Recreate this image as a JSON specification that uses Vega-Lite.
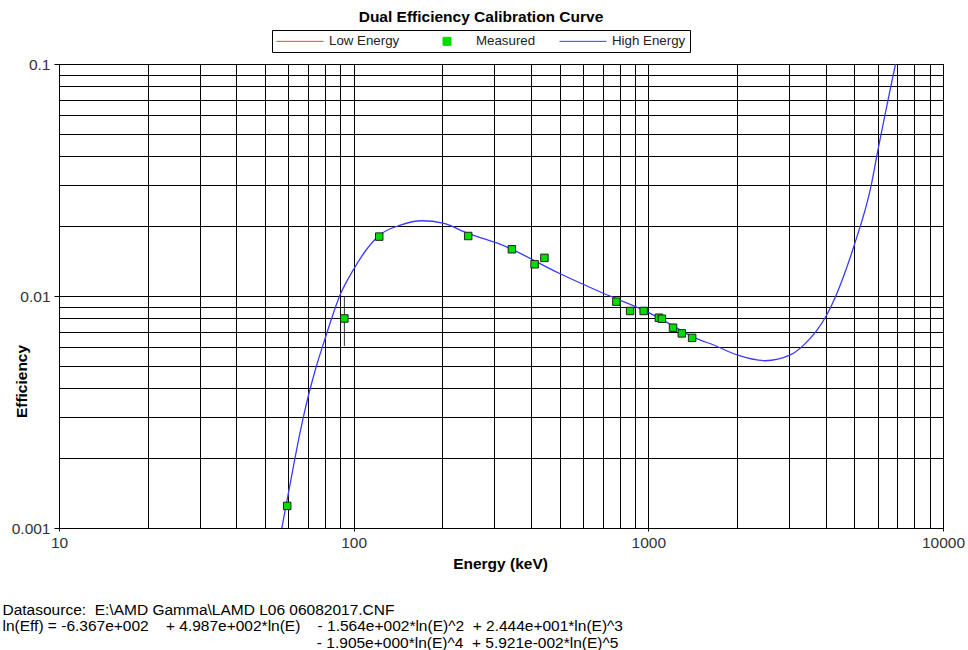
{
  "$schema": "https://vega.github.io/schema/vega-lite/v6.json",
  "autosize": {"type": "none"},
  "padding": {"left": 59, "top": 64, "right": 25, "bottom": 122},
  "width": 884,
  "height": 464,
  "background": "#ffffff",
  "title": {
    "text": "Dual Efficiency Calibration Curve",
    "anchor": "middle",
    "frame": "group",
    "dx": -20,
    "offset": 4,
    "font": "Liberation Sans",
    "fontSize": 15.5,
    "fontWeight": "bold",
    "color": "#000000"
  },
  "datasets": {
    "curve": [
      {"E": 57.05, "eff": 0.001, "series": "High Energy"},
      {"E": 61.2, "eff": 0.00161, "series": "High Energy"},
      {"E": 65.4, "eff": 0.00249, "series": "High Energy"},
      {"E": 69.6, "eff": 0.00356, "series": "High Energy"},
      {"E": 74.1, "eff": 0.0048, "series": "High Energy"},
      {"E": 80.1, "eff": 0.00659, "series": "High Energy"},
      {"E": 90.2, "eff": 0.0102, "series": "High Energy"},
      {"E": 99.5, "eff": 0.0129, "series": "High Energy"},
      {"E": 109.6, "eff": 0.01563, "series": "High Energy"},
      {"E": 121.4, "eff": 0.01815, "series": "High Energy"},
      {"E": 144, "eff": 0.0202, "series": "High Energy"},
      {"E": 170.6, "eff": 0.0211, "series": "High Energy"},
      {"E": 200.9, "eff": 0.0206, "series": "High Energy"},
      {"E": 244, "eff": 0.0186, "series": "High Energy"},
      {"E": 315, "eff": 0.0167, "series": "High Energy"},
      {"E": 500, "eff": 0.0125, "series": "High Energy"},
      {"E": 700, "eff": 0.0103, "series": "High Energy"},
      {"E": 1000, "eff": 0.0085, "series": "High Energy"},
      {"E": 1200, "eff": 0.0075, "series": "High Energy"},
      {"E": 1445, "eff": 0.00658, "series": "High Energy"},
      {"E": 1667, "eff": 0.00615, "series": "High Energy"},
      {"E": 2000, "eff": 0.00557, "series": "High Energy"},
      {"E": 2494, "eff": 0.00526, "series": "High Energy"},
      {"E": 3034, "eff": 0.00557, "series": "High Energy"},
      {"E": 3548, "eff": 0.00658, "series": "High Energy"},
      {"E": 3741, "eff": 0.00714, "series": "High Energy"},
      {"E": 4000, "eff": 0.00814, "series": "High Energy"},
      {"E": 5000, "eff": 0.0166, "series": "High Energy"},
      {"E": 5706, "eff": 0.03, "series": "High Energy"},
      {"E": 6000, "eff": 0.0419, "series": "High Energy"},
      {"E": 6900, "eff": 0.1, "series": "High Energy"}
    ],
    "measured": [
      {"E": 59.5, "eff": 0.001245, "series": "Measured"},
      {"E": 93.0, "eff": 0.0080, "lo": 0.00609, "hi": 0.00993, "series": "Measured"},
      {"E": 122.1, "eff": 0.01803, "series": "Measured"},
      {"E": 244.7, "eff": 0.01814, "series": "Measured"},
      {"E": 344.3, "eff": 0.0159, "series": "Measured"},
      {"E": 411.1, "eff": 0.0137, "series": "Measured"},
      {"E": 444.0, "eff": 0.0146, "series": "Measured"},
      {"E": 778.9, "eff": 0.00945, "series": "Measured"},
      {"E": 867.4, "eff": 0.00862, "series": "Measured"},
      {"E": 964.1, "eff": 0.00862, "series": "Measured"},
      {"E": 1085.8, "eff": 0.00806, "series": "Measured"},
      {"E": 1112.1, "eff": 0.00798, "series": "Measured"},
      {"E": 1212.9, "eff": 0.0073, "series": "Measured"},
      {"E": 1299.1, "eff": 0.0069, "series": "Measured"},
      {"E": 1408.0, "eff": 0.0066, "series": "Measured"}
    ]
  },
  "resolve": {"scale": {"x": "independent"}, "axis": {"x": "independent"}},
  "encoding": {
    "y": {
      "field": "eff",
      "type": "quantitative",
      "title": "Efficiency",
      "scale": {"type": "log", "domain": [0.001, 0.1], "nice": false},
      "axis": {
        "title": "Efficiency",
        "values": [0.001, 0.002, 0.003, 0.004, 0.005, 0.006, 0.007, 0.008, 0.009, 0.01, 0.02, 0.03, 0.04, 0.05, 0.06, 0.07, 0.08, 0.09, 0.1],
        "format": "~g",
        "labelExpr": "datum.value == 0.001 || datum.value == 0.01 || datum.value == 0.1 ? datum.label : ''",
        "labelOverlap": false,
        "labelFlush": false,
        "labelBound": false,
        "grid": true,
        "gridColor": "#000000",
        "gridOpacity": 1,
        "gridWidth": 1,
        "domainColor": "#000000",
        "tickColor": "#000000",
        "tickSize": 5,
        "tickOpacity": {"condition": {"test": "datum.value == 0.001 || datum.value == 0.01 || datum.value == 0.1", "value": 1}, "value": 0},
        "labelFont": "Liberation Sans",
        "labelFontSize": 15.5,
        "labelColor": "#333333",
        "labelPadding": 4,
        "titleFont": "Liberation Sans",
        "titleFontSize": 15.5,
        "titleFontWeight": "bold",
        "titleColor": "#000000",
        "titleX": -33,
        "titleY": 317,
        "titleBaseline": "alphabetic"
      }
    },
    "color": {
      "field": "series",
      "type": "nominal",
      "scale": {
        "domain": ["Low Energy", "Measured", "High Energy"],
        "range": ["#ff4040", "#00dd00", "#3a3aff"]
      },
      "legend": {
        "title": null,
        "orient": "none",
        "legendX": 213,
        "legendY": -34,
        "direction": "horizontal",
        "strokeColor": "#000000",
        "fillColor": "#ffffff",
        "padding": 4,
        "columnPadding": 21,
        "labelFont": "Liberation Sans",
        "labelFontSize": 13.3,
        "labelColor": "#222222",
        "labelOffset": 39,
        "symbolSize": 169,
        "symbolStrokeWidth": 1,
        "encode": {
          "symbols": {
            "update": {
              "shape": {"signal": "datum.value === 'Measured' ? 'M-1,0M2,-0.615H3.23V0.615H2Z' : 'M-1,0H6.23'"},
              "size": {"value": 169},
              "fill": {"signal": "datum.value === 'Measured' ? '#00dd00' : 'transparent'"},
              "stroke": {"signal": "datum.value === 'Measured' ? '#111111' : (datum.value === 'Low Energy' ? '#ff4040' : '#3a3aff')"},
              "strokeWidth": {"value": 1},
              "opacity": {"value": 1}
            }
          }
        }
      }
    }
  },
  "layer": [
    {
      "encoding": {
        "x": {
          "field": "E",
          "type": "quantitative",
          "scale": {"type": "log", "domain": [10, 10000], "nice": false},
          "axis": {
            "orient": "bottom",
            "title": "Energy (keV)",
            "values": [10, 20, 30, 40, 50, 60, 70, 80, 90, 100, 200, 300, 400, 500, 600, 700, 800, 900, 1000, 2000, 3000, 4000, 5000, 6000, 7000, 8000, 9000, 10000],
            "format": "~g",
            "labelExpr": "datum.value == 10 || datum.value == 100 || datum.value == 1000 || datum.value == 10000 ? datum.label : ''",
            "labelOverlap": false,
            "labelFlush": false,
            "labelBound": false,
            "grid": true,
            "gridColor": "#000000",
            "gridOpacity": 1,
            "gridWidth": 1,
            "domainColor": "#000000",
            "tickColor": "#000000",
            "tickSize": 3,
            "tickOpacity": {"condition": {"test": "datum.value == 10 || datum.value == 100 || datum.value == 1000 || datum.value == 10000", "value": 1}, "value": 0},
            "labelFont": "Liberation Sans",
            "labelFontSize": 15.5,
            "labelColor": "#333333",
            "labelPadding": 4,
            "titleFont": "Liberation Sans",
            "titleFontSize": 15.5,
            "titleFontWeight": "bold",
            "titleColor": "#000000",
            "titleX": 441,
            "titleY": 40,
            "titleBaseline": "alphabetic"
          }
        }
      },
      "layer": [
        {
          "data": {"name": "measured"},
          "transform": [{"filter": "isValid(datum.lo)"}],
          "mark": {"type": "rule", "strokeWidth": 1},
          "encoding": {
            "y": {"field": "lo", "type": "quantitative", "title": "Efficiency"},
            "y2": {"field": "hi"},
            "color": {"value": "#333333"}
          }
        },
        {
          "data": {"name": "curve"},
          "mark": {"type": "line", "interpolate": "monotone", "strokeWidth": 1.3}
        }
      ]
    },
    {
      "data": {"name": "measured"},
      "mark": {"type": "point", "shape": "square", "filled": true, "size": 56, "stroke": "#222222", "strokeWidth": 1, "opacity": 1},
      "encoding": {
        "x": {
          "field": "E",
          "type": "quantitative",
          "scale": {"type": "log", "domain": [10, 10000], "nice": false},
          "axis": {
            "orient": "bottom",
            "title": [
              "Datasource:\u00a0\u00a0E:\\AMD Gamma\\LAMD L06 06082017.CNF",
              "ln(Eff) = -6.367e+002\u00a0\u00a0\u00a0\u00a0+ 4.987e+002*ln(E)\u00a0\u00a0\u00a0\u00a0- 1.564e+002*ln(E)^2\u00a0\u00a0+ 2.444e+001*ln(E)^3",
              "\u200b\u00a0\u00a0\u00a0\u00a0\u00a0\u00a0\u00a0\u00a0\u00a0\u00a0\u00a0\u00a0\u00a0\u00a0\u00a0\u00a0\u00a0\u00a0\u00a0\u00a0\u00a0\u00a0\u00a0\u00a0\u00a0\u00a0\u00a0\u00a0\u00a0\u00a0\u00a0\u00a0\u00a0\u00a0\u00a0\u00a0\u00a0\u00a0\u00a0\u00a0\u00a0\u00a0\u00a0\u00a0\u00a0\u00a0\u00a0\u00a0\u00a0\u00a0\u00a0\u00a0\u00a0\u00a0\u00a0\u00a0\u00a0\u00a0\u00a0\u00a0\u00a0\u00a0\u00a0\u00a0\u00a0\u00a0\u00a0\u00a0\u00a0\u00a0\u00a0\u00a0\u00a0- 1.905e+000*ln(E)^4\u00a0\u00a0+ 5.921e-002*ln(E)^5"
            ],
            "labels": false,
            "ticks": false,
            "domain": false,
            "grid": false,
            "titleFont": "Liberation Sans",
            "titleFontSize": 15.5,
            "titleFontWeight": "normal",
            "titleColor": "#000000",
            "titleAlign": "left",
            "titleBaseline": "top",
            "titleLineHeight": 16.5,
            "titleX": -57,
            "titleY": 74
          }
        }
      }
    }
  ],
  "config": {
    "view": {"stroke": "#000000", "strokeWidth": 1},
    "font": "Liberation Sans"
  }
}
